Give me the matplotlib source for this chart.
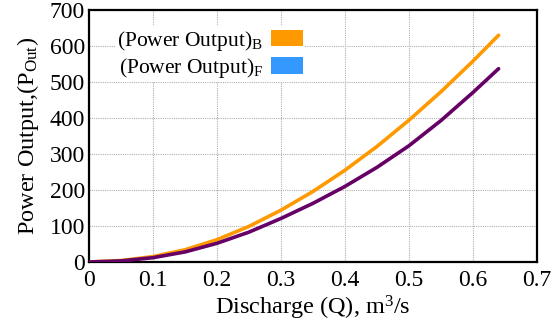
import matplotlib
matplotlib.use("Agg")
import matplotlib.pyplot as plt
from matplotlib.patches import Patch

plt.rcParams['font.family'] = ['Liberation Serif', 'DejaVu Serif']
plt.rcParams['mathtext.fontset'] = 'custom'
plt.rcParams['mathtext.rm'] = 'Liberation Serif'
plt.rcParams['mathtext.it'] = 'Liberation Serif:italic'

discharge = [0, 0.05, 0.1, 0.15, 0.2, 0.25, 0.3, 0.35, 0.4, 0.45, 0.5, 0.55, 0.6, 0.64]
power_b = [0, 4, 15, 34, 62, 99, 144, 196, 255, 321, 394, 473, 558, 630]
power_f = [0, 3, 12, 28, 52, 83, 121, 163, 210, 263, 323, 393, 471, 537]
x_ticks = [0, 0.1, 0.2, 0.3, 0.4, 0.5, 0.6, 0.7]
x_tick_labels = ['0', '0.1', '0.2', '0.3', '0.4', '0.5', '0.6', '0.7']
y_ticks = [0, 100, 200, 300, 400, 500, 600, 700]

fig = plt.figure(figsize=(5.6, 3.22), dpi=100)
ax = fig.add_axes([89 / 560, 60 / 322, 448 / 560, 252 / 322])

ax.plot(discharge, power_b, color='#ff9900', lw=2.6, solid_capstyle='round',
        solid_joinstyle='round', zorder=3)
ax.plot(discharge, power_f, color='#660066', lw=2.6, solid_capstyle='round',
        solid_joinstyle='round', zorder=3)

ax.set_xlim(0, 0.7)
ax.set_ylim(0, 700)
ax.set_xticks(x_ticks)
ax.set_xticklabels(x_tick_labels)
ax.set_yticks(y_ticks)
ax.tick_params(length=0, labelsize=17)
ax.tick_params(axis='y', pad=3)
ax.tick_params(axis='x', pad=6)
ax.grid(True, color='#b0b0b0', linestyle=(0, (1, 1)), linewidth=0.8)
for s in ax.spines.values():
    s.set_linewidth(1.6)
    s.set_color('black')

ax.set_xlabel('Discharge (Q), m$^3$/s', fontsize=17.5, labelpad=2)
ax.set_ylabel('Power Output,(P$_{\\mathrm{Out}}$)', fontsize=17.5, labelpad=6)

handles = [Patch(facecolor='#ff9900', edgecolor='none'),
           Patch(facecolor='#3399ff', edgecolor='none')]
labels = ['(Power Output)$_{\\mathrm{B}}$', '(Power Output)$_{\\mathrm{F}}$']
leg = ax.legend(handles, labels, loc='upper left', bbox_to_anchor=(0.058, 0.935),
                markerfirst=False, frameon=True, fontsize=15.5,
                handlelength=1.5, handleheight=0.8, handletextpad=0.35,
                labelspacing=0.15, borderaxespad=0, borderpad=0.1)
leg.get_frame().set_facecolor('white')
leg.get_frame().set_edgecolor('none')
leg.get_frame().set_alpha(1)

fig.savefig('out.png', dpi=100)
